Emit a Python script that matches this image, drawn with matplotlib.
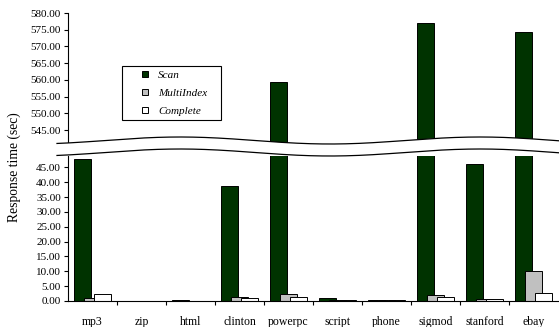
import numpy as np
import matplotlib.pyplot as plt
from matplotlib.patches import Polygon, Rectangle
from matplotlib.lines import Line2D

plt.rcParams['font.family'] = ['Liberation Serif', 'DejaVu Serif']

datasets = ["mp3", "zip", "html", "clinton", "powerpc", "script", "phone", "sigmod", "stanford", "ebay"]
scan = [47.7, 0.05, 0.2, 38.6, 559.5, 1.0, 0.5, 576.9, 46.3, 574.4]
multi_index = [1.0, 0.05, 0.15, 1.2, 2.2, 0.3, 0.5, 2.0, 0.8, 10.0]
complete = [2.2, 0.05, 0.15, 0.9, 1.3, 0.3, 0.5, 1.2, 0.8, 2.7]

series = [("Scan", scan, "#003300"),
          ("MultiIndex", multi_index, "#c0c0c0"),
          ("Complete", complete, "#ffffff")]

W, H = 559, 327
fig = plt.figure(figsize=(W / 100, H / 100), dpi=100)

left, right = 68, 558
ax_top = fig.add_axes([left / W, (H - 143.4) / H, (right - left) / W, (143.4 - 13) / H])
ax_bot = fig.add_axes([left / W, (H - 301) / H, (right - left) / W, (301 - 155.5) / H])

x = np.arange(len(datasets))
width = 0.34
offsets = [-0.2, 0.0, 0.2]

for ax in (ax_top, ax_bot):
    for (name, vals, col), off in zip(series, offsets):
        ax.bar(x + off, vals, width, color=col, edgecolor="black", linewidth=0.7, label=name)
    ax.set_xlim(-0.5, len(datasets) - 0.5)
    ax.spines["top"].set_visible(False)
    ax.spines["right"].set_visible(False)
    ax.tick_params(axis="y", labelsize=8, length=3, width=0.8, pad=2)

ax_top.set_ylim(541, 580)
ax_top.set_yticks(np.arange(545, 581, 5))
ax_top.set_yticklabels(["%.2f" % v for v in np.arange(545, 581, 5)])
ax_top.spines["bottom"].set_visible(False)
ax_top.set_xticks([])

ax_bot.set_ylim(0, 49)
ax_bot.set_yticks(np.arange(0, 46, 5))
ax_bot.set_yticklabels(["%.2f" % v for v in np.arange(0, 46, 5)])
ax_bot.set_xticks(np.arange(0.5, len(datasets) - 1, 1.0))
ax_bot.set_xticklabels([])
ax_bot.set_xticks(x, minor=True)
ax_bot.set_xticklabels(datasets, minor=True, fontsize=8.5)
ax_bot.tick_params(axis="x", which="major", length=3, width=0.8)
ax_bot.tick_params(axis="x", which="minor", length=0, pad=11)

# wavy break
xs = np.linspace(57, 559, 300)
upper = 140.5 - 3.5 * np.cos(2 * np.pi * (xs - 180) / 300)
lower = upper + 12
poly = np.vstack([np.column_stack([xs, upper]), np.column_stack([xs[::-1], lower[::-1]])])
poly_fig = np.column_stack([poly[:, 0] / W, 1 - poly[:, 1] / H])
fig.add_artist(Polygon(poly_fig, closed=True, facecolor="white", edgecolor="none",
                       transform=fig.transFigure, zorder=5))
for yy in (upper, lower):
    fig.add_artist(Line2D(xs / W, 1 - yy / H, color="black", lw=0.9,
                          transform=fig.transFigure, zorder=6))

fig.text(14 / W, 1 - 167 / H, "Response time (sec)", rotation=90, va="center", ha="center", fontsize=9.8)

# legend
fig.add_artist(Rectangle((122 / W, 1 - 120 / H), 99 / W, 54 / H, transform=fig.transFigure,
                         facecolor="white", edgecolor="black", lw=0.8, zorder=7))
handles = [Line2D([], [], marker="s", linestyle="none", markersize=4.8,
                  markerfacecolor=col, markeredgecolor="black", markeredgewidth=0.7)
           for _, _, col in series]
leg = fig.legend(handles, [s[0] for s in series], loc="upper left",
                 bbox_to_anchor=(139.5 / W, 1 - 70 / H), bbox_transform=fig.transFigure,
                 frameon=False, prop={"style": "italic", "size": 8},
                 handlelength=1.0, handletextpad=0.67, labelspacing=0.73,
                 borderpad=0, borderaxespad=0)
leg.set_zorder(8)

fig.savefig("out.png", dpi=100)
